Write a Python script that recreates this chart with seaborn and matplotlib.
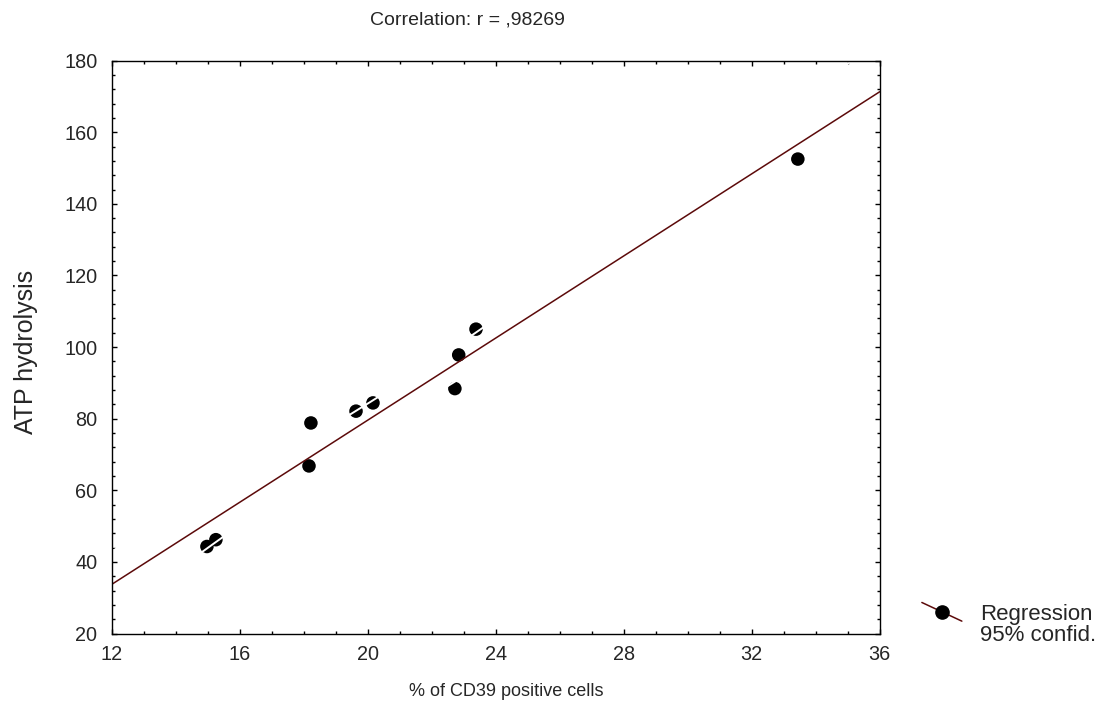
import numpy as np
import pandas as pd
import seaborn as sns
import matplotlib
matplotlib.use("Agg")
import matplotlib.pyplot as plt
from matplotlib.lines import Line2D
from matplotlib.legend_handler import HandlerBase

# Dados
cd39 = [14.97, 15.25, 18.16, 18.22, 19.63, 20.16, 22.72, 22.84, 23.38, 33.44]
atp = [44.3, 46.2, 66.8, 78.8, 82.1, 84.4, 88.4, 97.8, 105.0, 152.5]
x_ticks = [12, 16, 20, 24, 28, 32, 36]
y_ticks = [20, 40, 60, 80, 100, 120, 140, 160, 180]

line_color = "#5c0a0a"

sns.set_style("white")
plt.rcParams["font.family"] = ["Liberation Sans", "DejaVu Sans"]

df = pd.DataFrame({"cd39": cd39, "atp": atp})

fig = plt.figure(figsize=(11.08, 7.13), dpi=100)
ax = fig.add_axes([0.101, 0.1115, 0.693, 0.8035])
ax.set_xlim(12, 36)
ax.set_ylim(20, 180)

# Pontos
sns.scatterplot(data=df, x="cd39", y="atp", ax=ax, color="black", s=95,
                edgecolor="none", zorder=2, legend=False)

# Intervalo de confiança 95% (linhas brancas)
x = np.array(cd39)
y = np.array(atp)
n = len(x)
b, a = np.polyfit(x, y, 1)
resid = y - (a + b * x)
s = np.sqrt(np.sum(resid ** 2) / (n - 2))
sxx = np.sum((x - x.mean()) ** 2)
t_val = 2.306  # t(0.975, gl=8)
xs = np.linspace(12, 36, 200)
fit = a + b * xs
se = s * np.sqrt(1 / n + (xs - x.mean()) ** 2 / sxx)
ax.plot(xs, fit + t_val * se, color="white", lw=1.4, zorder=3)
ax.plot(xs, fit - t_val * se, color="white", lw=1.4, zorder=3)

# Reta de regressão
sns.regplot(data=df, x="cd39", y="atp", ax=ax, scatter=False, ci=None,
            truncate=False, color=line_color, line_kws={"lw": 1.1, "zorder": 4})
ax.set_xlim(12, 36)
ax.set_ylim(20, 180)

ax.set_xticks(x_ticks)
ax.set_yticks(y_ticks)
ax.set_xticks(np.arange(12, 37, 1), minor=True)
ax.set_yticks(np.arange(20, 181, 4), minor=True)
ax.tick_params(which="both", direction="in", top=True, right=True,
               bottom=True, left=True, color="black", labelsize=14.3)
ax.tick_params(axis="y", pad=10.5)
ax.tick_params(axis="x", pad=8.5)
ax.tick_params(which="major", length=3.5, width=1)
ax.tick_params(which="minor", length=2.2, width=1)
for sp in ax.spines.values():
    sp.set_visible(True)
    sp.set_color("black")
    sp.set_linewidth(1.0)
    sp.set_zorder(5)

ax.set_xlabel("% of CD39 positive cells", fontsize=13)
ax.xaxis.set_label_coords(0.514, -0.086)
ax.set_ylabel("ATP hydrolysis", fontsize=18)
ax.yaxis.set_label_coords(-0.096, 0.492)
fig.text(0.4215, 1 - 20 / 713, "Correlation: r = ,98269", fontsize=14,
         ha="center", va="center")


class SlantHandler(HandlerBase):
    def create_artists(self, legend, orig_handle, xdescent, ydescent,
                       width, height, fontsize, trans):
        color = orig_handle.get_color()
        line = Line2D([-xdescent, width - xdescent],
                      [height * 1.1 - ydescent, -0.1 * height - ydescent],
                      color=color, lw=1.1)
        line.set_transform(trans)
        artists = [line]
        if orig_handle.get_marker() not in (None, "None", ""):
            dot = Line2D([width / 2 - xdescent], [height / 2 - ydescent],
                         marker="o", color="black", ms=9.5, ls="none")
            dot.set_transform(trans)
            artists.append(dot)
        return artists


h_reg = Line2D([], [], color=line_color, marker="o")
h_ci = Line2D([], [], color="white")
fig.legend([h_reg, h_ci], ["Regression", "95% confid."],
           handler_map={Line2D: SlantHandler()},
           loc="center left", bbox_to_anchor=(0.832, 0.124),
           frameon=False, fontsize=16, handlelength=1.8, handletextpad=0.8,
           labelspacing=0.0, borderpad=0, borderaxespad=0)

fig.savefig("out.png", dpi=100)
